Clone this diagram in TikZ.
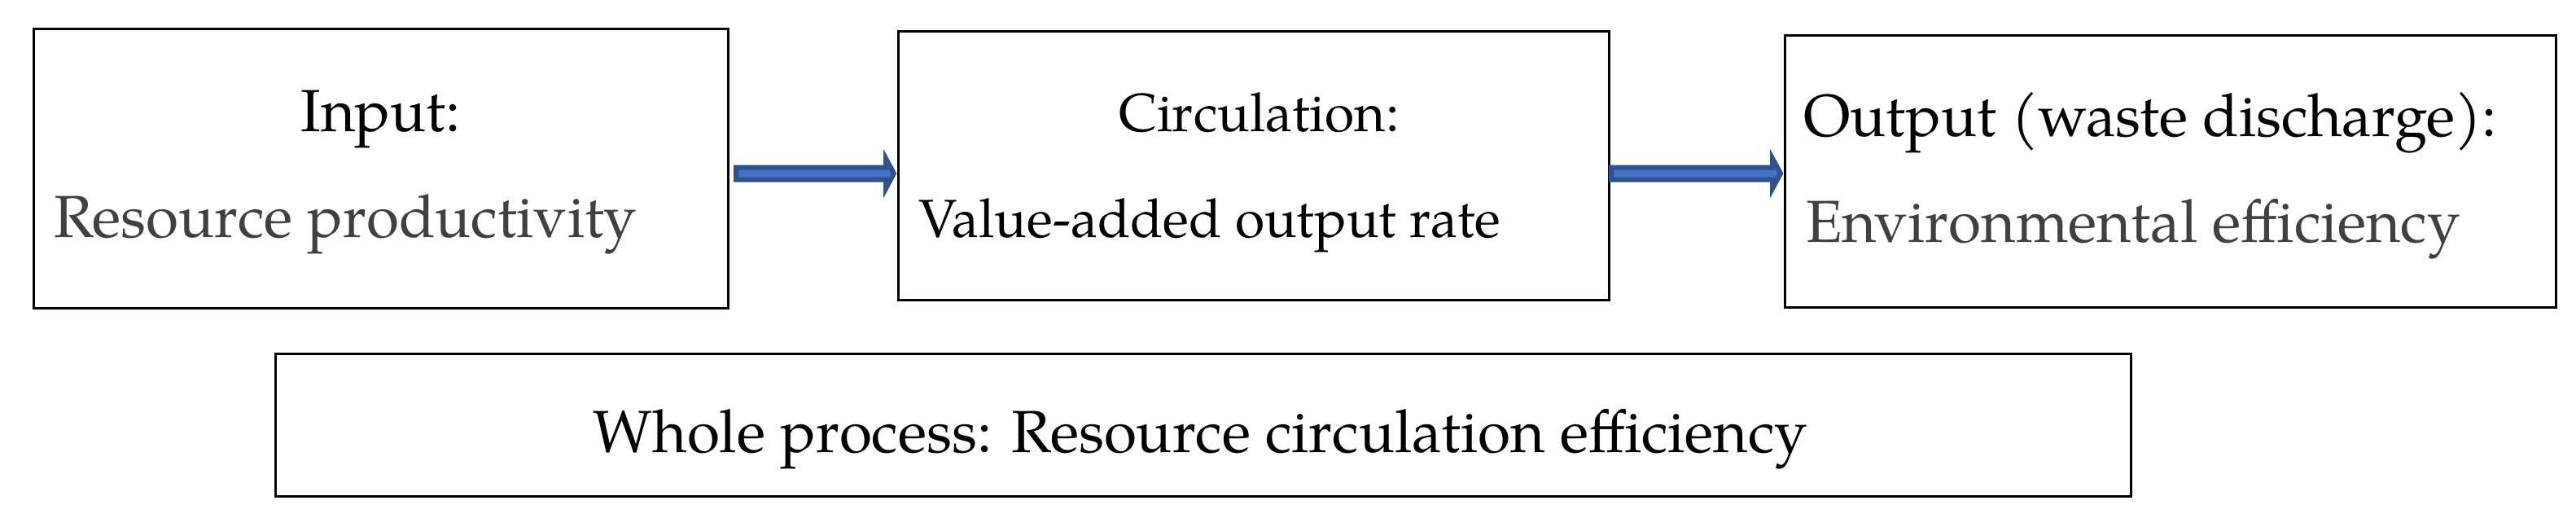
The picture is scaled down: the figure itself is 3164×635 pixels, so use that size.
\documentclass[tikz,border=0pt]{standalone}
\usepackage{fontspec}
\setmainfont{texgyrepagella-regular.otf}
\usetikzlibrary{calc}
\definecolor{arrfill}{HTML}{4472C4}
\definecolor{arrline}{HTML}{2F528F}
\definecolor{graytxt}{HTML}{404040}
\tikzset{
  box/.style={draw=black, line width=3pt, rectangle, inner sep=0pt, outer sep=0pt},
  txt/.style={inner sep=0pt, outer sep=0pt, font=\fontsize{73}{84}\selectfont},
  txtsmall/.style={inner sep=0pt, outer sep=0pt, font=\fontsize{66}{76}\selectfont},
  barrow/.style={fill=arrfill, draw=arrline, line width=6pt, line join=miter}
}
\newcommand\blkarrow[3]{% start, end, start offset
  \draw[barrow] let \p1=(#1), \p2=(#2) in
    (\x1+#3,\y1+7.5pt) -- (\x2-15pt,\y1+7.5pt) -- (\x2-15pt,\y1+18.5pt) -- (\x2-5pt,\y1)
    -- (\x2-15pt,\y1-18.5pt) -- (\x2-15pt,\y1-7.5pt) -- (\x1+#3,\y1-7.5pt) -- cycle;}
\begin{document}
\begin{tikzpicture}[x=1pt,y=-1pt]
\useasboundingbox (0,0) rectangle (3164,635);
\node[box, minimum width=853pt, minimum height=343pt] (inp) at (467.5,206.5) {};
\node[box, minimum width=873pt, minimum height=330pt] (circ) at (1539.5,203) {};
\node[box, minimum width=947pt, minimum height=334pt] (outp) at (2665.5,210) {};
\node[box, minimum width=2279pt, minimum height=175pt] (whole) at (1477.5,521.5) {};
\coordinate (ay) at (0,213);
% texts
\node[txt, anchor=base] (t1a) at ($(inp.north)+(0,126)$) {Input:};
\node[txt, anchor=base west, text=graytxt] (t1b) at ($(inp.north west)+(25,256)$) {Resource productivity};
\node[txtsmall, anchor=base] (t2a) at ($(circ.north)+(7,123)$) {Circulation:};
\node[txtsmall, anchor=base west] (t2b) at ($(circ.north west)+(25,253)$) {Value-added output rate};
\node[txt, anchor=base west] (t3a) at ($(outp.north west)+(23,124)$) {Output (waste discharge):};
\node[txt, anchor=base west, text=graytxt] (t3b) at ($(outp.north west)+(26,254)$) {Environmental efficiency};
\node[txt, anchor=base] (t4) at ($(whole.north)+(-3,121)$) {Whole process: Resource circulation efficiency};
% arrows
\blkarrow{inp.east |- ay}{circ.west |- ay}{10pt}
\blkarrow{circ.east |- ay}{outp.west |- ay}{3pt}
\end{tikzpicture}
\end{document}
